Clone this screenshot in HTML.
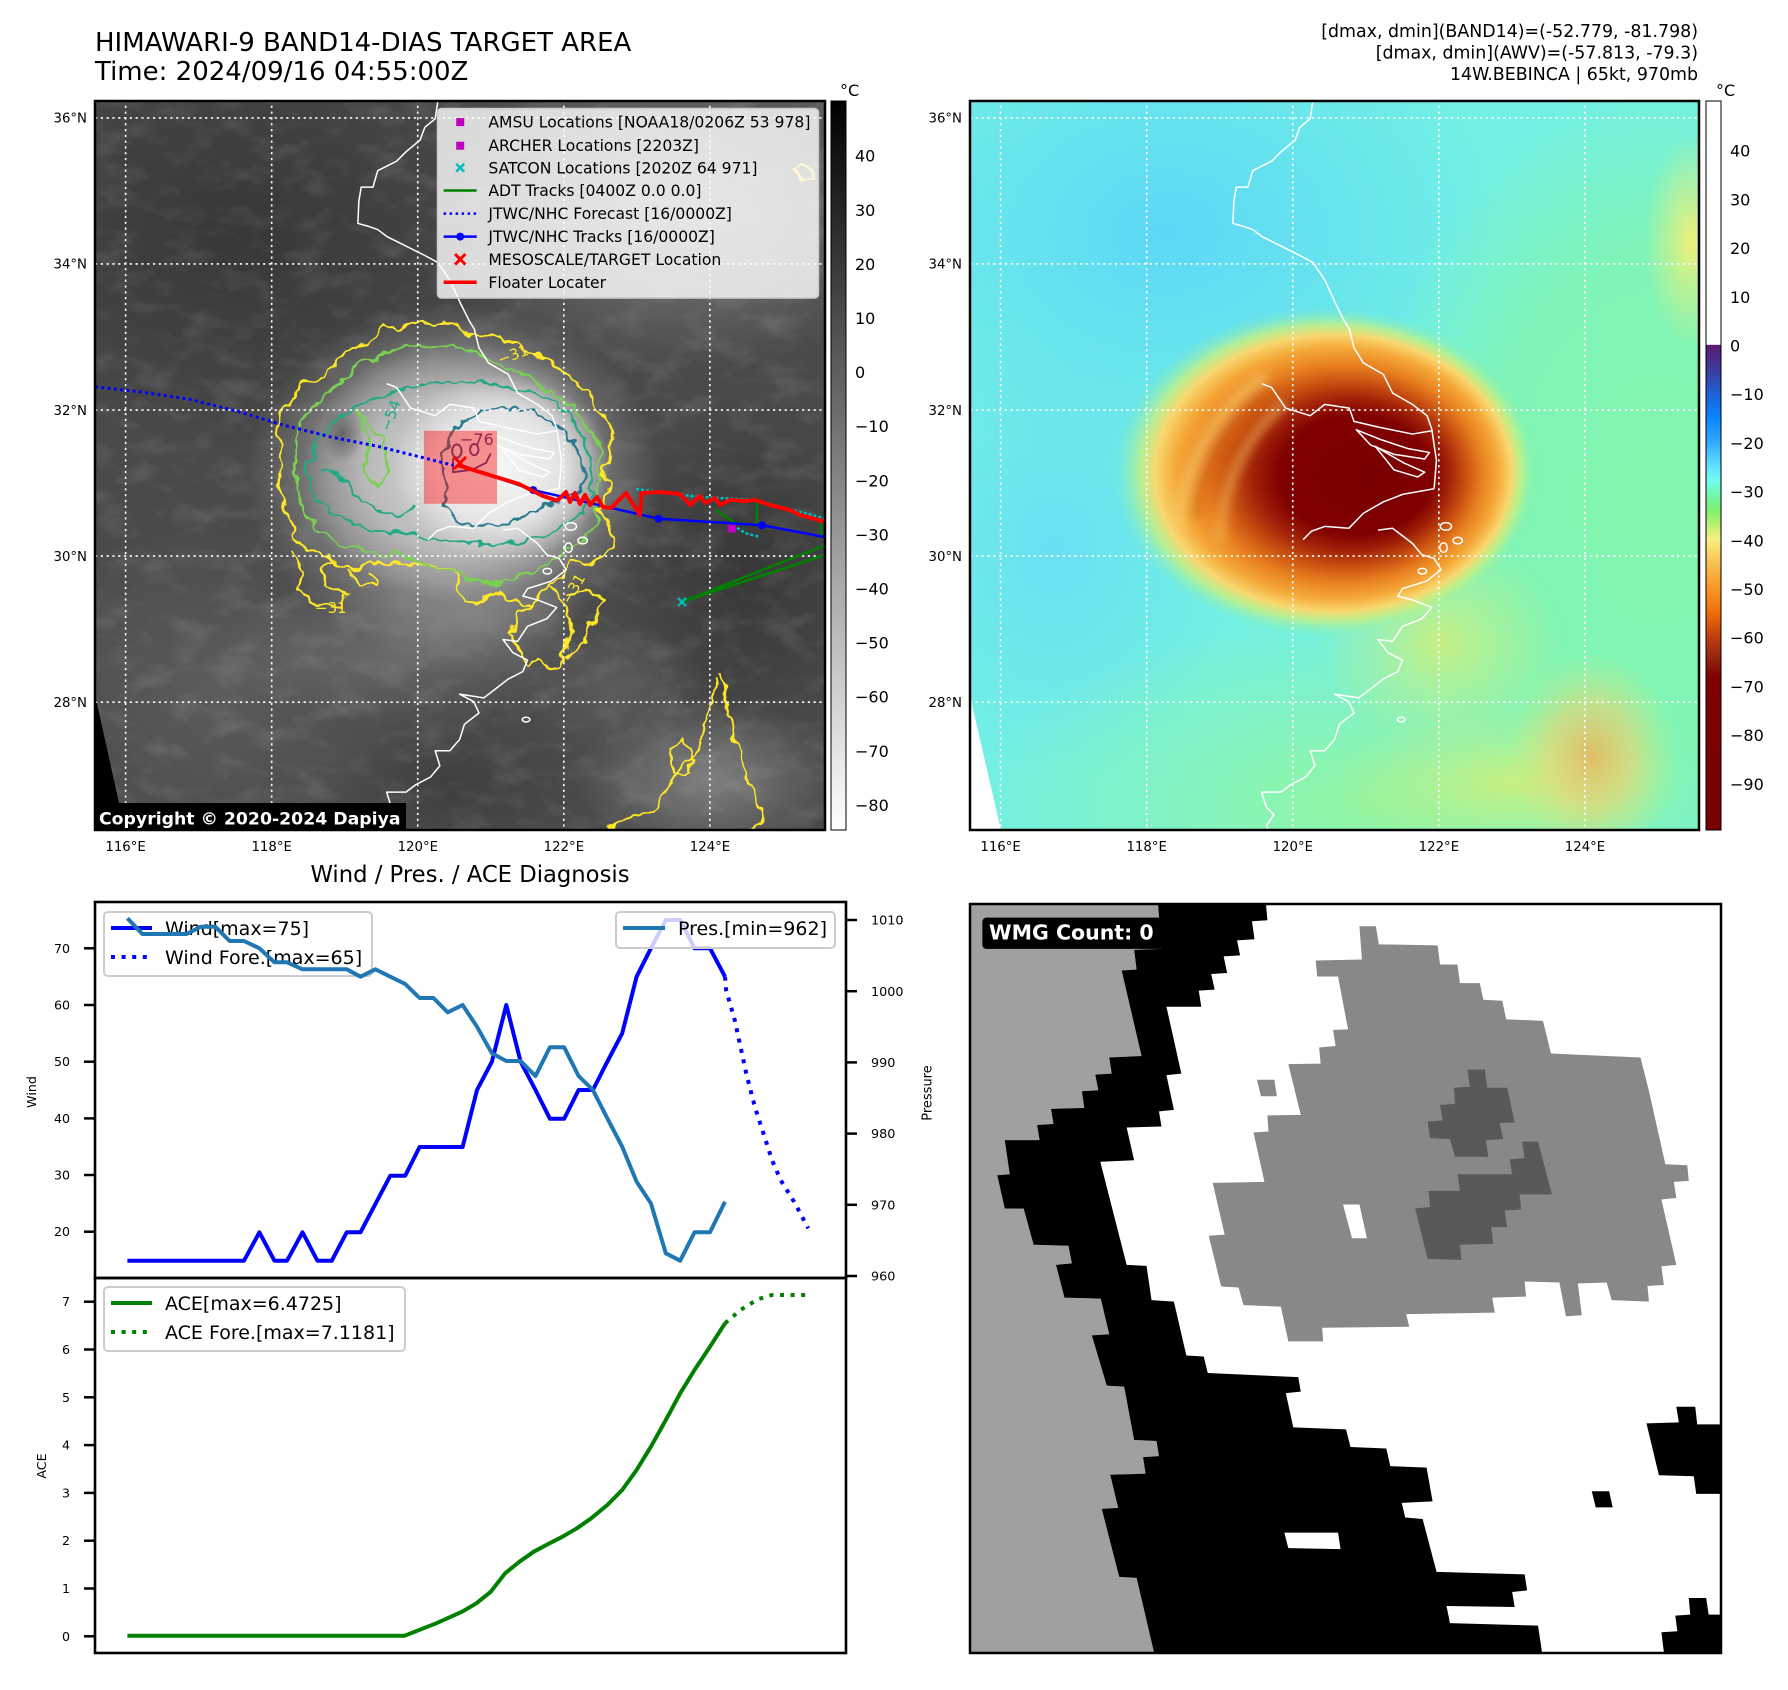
<!DOCTYPE html>
<html><head><meta charset="utf-8">
<style>
html,body{margin:0;padding:0;background:#fff;}
svg{display:block;}
text{font-family:"DejaVu Sans","Liberation Sans",sans-serif;}
</style></head><body>
<svg width="1788" height="1690" viewBox="0 0 1788 1690" xmlns="http://www.w3.org/2000/svg">
<defs>
  <radialGradient id="kDark"><stop offset="0" stop-color="#353535" stop-opacity="0.9"/><stop offset="1" stop-color="#353535" stop-opacity="0"/></radialGradient>
  <radialGradient id="kDark2"><stop offset="0" stop-color="#3c3c3c" stop-opacity="0.8"/><stop offset="1" stop-color="#3c3c3c" stop-opacity="0"/></radialGradient>
  <radialGradient id="kLight"><stop offset="0" stop-color="#868686" stop-opacity="0.9"/><stop offset="1" stop-color="#868686" stop-opacity="0"/></radialGradient>
  <radialGradient id="kMed"><stop offset="0" stop-color="#5e5e5e" stop-opacity="0.9"/><stop offset="1" stop-color="#5e5e5e" stop-opacity="0"/></radialGradient>
  <radialGradient id="kMed2"><stop offset="0" stop-color="#727272" stop-opacity="0.8"/><stop offset="1" stop-color="#727272" stop-opacity="0"/></radialGradient>
  <radialGradient id="kHalo"><stop offset="0" stop-color="#a4a4a4" stop-opacity="1"/><stop offset="0.6" stop-color="#969696" stop-opacity="0.75"/><stop offset="1" stop-color="#909090" stop-opacity="0"/></radialGradient>
  <radialGradient id="kHalo2"><stop offset="0" stop-color="#8a8a8a" stop-opacity="0.8"/><stop offset="1" stop-color="#8a8a8a" stop-opacity="0"/></radialGradient>
  <radialGradient id="kBody"><stop offset="0" stop-color="#d8d8d8" stop-opacity="1"/><stop offset="0.6" stop-color="#cccccc" stop-opacity="0.7"/><stop offset="1" stop-color="#c0c0c0" stop-opacity="0"/></radialGradient>
  <radialGradient id="kCore"><stop offset="0" stop-color="#f6f6f6" stop-opacity="1"/><stop offset="0.6" stop-color="#eeeeee" stop-opacity="0.8"/><stop offset="1" stop-color="#e8e8e8" stop-opacity="0"/></radialGradient>
  <radialGradient id="kSpot"><stop offset="0" stop-color="#606060" stop-opacity="0.9"/><stop offset="1" stop-color="#606060" stop-opacity="0"/></radialGradient>

  <radialGradient id="cBlue"><stop offset="0" stop-color="#5ad4f8" stop-opacity="0.9"/><stop offset="1" stop-color="#5ad4f8" stop-opacity="0"/></radialGradient>
  <radialGradient id="cBlue2"><stop offset="0" stop-color="#66dcf6" stop-opacity="0.8"/><stop offset="1" stop-color="#66dcf6" stop-opacity="0"/></radialGradient>
  <radialGradient id="cGreen"><stop offset="0" stop-color="#84f6ac" stop-opacity="1"/><stop offset="0.6" stop-color="#80f5b4" stop-opacity="0.9"/><stop offset="1" stop-color="#80f5b8" stop-opacity="0"/></radialGradient>
  <radialGradient id="cGreen2"><stop offset="0" stop-color="#92f5a0" stop-opacity="1"/><stop offset="1" stop-color="#92f5a0" stop-opacity="0"/></radialGradient>
  <radialGradient id="cYG"><stop offset="0" stop-color="#d0f07c" stop-opacity="0.9"/><stop offset="1" stop-color="#c0f084" stop-opacity="0"/></radialGradient>
  <radialGradient id="cOr"><stop offset="0" stop-color="#f0b058" stop-opacity="0.8"/><stop offset="0.5" stop-color="#f4d070" stop-opacity="0.55"/><stop offset="1" stop-color="#d0f080" stop-opacity="0"/></radialGradient>
  <radialGradient id="cYel"><stop offset="0" stop-color="#f0f07a" stop-opacity="1"/><stop offset="1" stop-color="#d8f080" stop-opacity="0"/></radialGradient>
  <radialGradient id="blob" cx="0.5" cy="0.5" r="0.5" fx="0.612" fy="0.514">
    <stop offset="0" stop-color="#780000"/>
    <stop offset="0.36" stop-color="#800000"/>
    <stop offset="0.46" stop-color="#a02008"/>
    <stop offset="0.56" stop-color="#c85010"/>
    <stop offset="0.66" stop-color="#e88020"/>
    <stop offset="0.76" stop-color="#f5a838"/>
    <stop offset="0.84" stop-color="#f8d870"/>
    <stop offset="0.90" stop-color="#c8f080" stop-opacity="0.8"/>
    <stop offset="0.96" stop-color="#a0f0a0" stop-opacity="0.3"/>
    <stop offset="1" stop-color="#90f0a0" stop-opacity="0"/>
  </radialGradient>

  <linearGradient id="cbGray" x1="0" y1="0" x2="0" y2="1">
    <stop offset="0" stop-color="#000"/><stop offset="1" stop-color="#fff"/>
  </linearGradient>
  <linearGradient id="cbJet" x1="0" y1="0" x2="0" y2="1">
    <stop offset="0" stop-color="#ffffff"/>
    <stop offset="0.334" stop-color="#ffffff"/>
    <stop offset="0.335" stop-color="#5c1a6e"/>
    <stop offset="0.367" stop-color="#3e3a9a"/>
    <stop offset="0.401" stop-color="#1f60d4"/>
    <stop offset="0.434" stop-color="#0a84ff"/>
    <stop offset="0.467" stop-color="#30a8ff"/>
    <stop offset="0.501" stop-color="#60e0ff"/>
    <stop offset="0.521" stop-color="#70fcee"/>
    <stop offset="0.540" stop-color="#72f8b0"/>
    <stop offset="0.560" stop-color="#7cf070"/>
    <stop offset="0.581" stop-color="#b8f070"/>
    <stop offset="0.601" stop-color="#f8f080"/>
    <stop offset="0.634" stop-color="#f8c050"/>
    <stop offset="0.667" stop-color="#f89828"/>
    <stop offset="0.701" stop-color="#f07008"/>
    <stop offset="0.734" stop-color="#c04010"/>
    <stop offset="0.768" stop-color="#902010"/>
    <stop offset="0.790" stop-color="#800000"/>
    <stop offset="1" stop-color="#7a0000"/>
  </linearGradient>

  <filter id="wob" filterUnits="userSpaceOnUse" x="0" y="0" width="1560" height="1560">
    <feTurbulence type="fractalNoise" baseFrequency="0.035" numOctaves="2" seed="4"/>
    <feDisplacementMap in="SourceGraphic" scale="28" xChannelSelector="R" yChannelSelector="G"/>
  </filter>
  <filter id="soft" filterUnits="userSpaceOnUse" x="0" y="0" width="1560" height="1560">
    <feGaussianBlur stdDeviation="10"/>
  </filter>
  <filter id="noise" filterUnits="userSpaceOnUse" x="0" y="0" width="1560" height="1560">
    <feTurbulence type="fractalNoise" baseFrequency="0.012 0.022" numOctaves="3" seed="7"/>
    <feColorMatrix type="matrix" values="0 0 0 0 1  0 0 0 0 1  0 0 0 0 1  1.6 0 0 0 -0.75"/>
  </filter>
  <clipPath id="clipL"><rect x="95" y="101" width="730" height="729"/></clipPath>

  <g id="coast" fill="none" stroke="#fff" stroke-width="3.2" stroke-linejoin="round">
    <path d="M728,0 L722,40 700,58 690,85 660,110 640,130 620,140 600,150 590,185 565,185 560,215 558,262 580,268 600,275 620,290 660,310 700,330 728,345 753,382 775,430 795,470 805,486 815,526 835,558 877,582 897,622 939,646 970,670 980,698 990,765 985,825"/>
    <path d="M619,602 L640,610 670,654 722,670 753,646 805,654 815,682 866,694 939,709 980,702"/>
    <path d="M820,700 L870,720 930,740 975,748 965,762 900,752 850,732 Z"/>
    <path d="M860,735 L920,770 965,790 950,800 900,785 Z"/>
    <path d="M707,933 L725,915 753,905 804,909 835,877 877,853 918,837 985,825"/>
    <path d="M866,913 L897,909 939,941 959,965 985,973 1000,997 969,1021 918,1037 908,1053 939,1061 980,1077 959,1101 918,1117 897,1149 866,1145 887,1173 918,1189 908,1213 877,1229 846,1253 825,1269 774,1261 804,1277 815,1301 784,1325 774,1357 753,1381 722,1381 732,1413 712,1437 681,1453 660,1469 619,1469 629,1501 645,1517 629,1540 640,1560"/>
    <ellipse cx="1010" cy="905" rx="12" ry="8"/>
    <ellipse cx="1035" cy="935" rx="10" ry="7"/>
    <ellipse cx="1005" cy="950" rx="8" ry="10"/>
    <ellipse cx="960" cy="1000" rx="9" ry="6"/>
    <ellipse cx="915" cy="1315" rx="8" ry="5"/>
  </g>
</defs>

<rect width="1788" height="1690" fill="#fff"/>

<!-- ================= TITLES ================= -->
<text x="95" y="51" font-size="26" fill="#000">HIMAWARI-9 BAND14-DIAS TARGET AREA</text>
<text x="95" y="80" font-size="26" fill="#000">Time: 2024/09/16 04:55:00Z</text>
<text x="1698" y="37" font-size="17.4" text-anchor="end">[dmax, dmin](BAND14)=(-52.779, -81.798)</text>
<text x="1698" y="58.5" font-size="17.4" text-anchor="end">[dmax, dmin](AWV)=(-57.813, -79.3)</text>
<text x="1698" y="80" font-size="17.4" text-anchor="end">14W.BEBINCA | 65kt, 970mb</text>

<!-- ================= LEFT MAP ================= -->
<svg x="95" y="101" width="730" height="729" viewBox="0 2.12 1549.4 1547.2" preserveAspectRatio="none">
  <rect x="0" y="0" width="1560" height="1560" fill="#4a4a4a"/>
  <ellipse cx="300" cy="280" rx="650" ry="480" fill="url(#kDark)"/>
  <ellipse cx="1250" cy="230" rx="520" ry="340" fill="url(#kLight)"/>
  <ellipse cx="1380" cy="1000" rx="300" ry="380" fill="url(#kDark)"/>
  <ellipse cx="250" cy="1250" rx="450" ry="350" fill="url(#kMed)"/>
  <ellipse cx="650" cy="1170" rx="420" ry="160" fill="url(#kMed2)"/>
  <ellipse cx="780" cy="1460" rx="260" ry="140" fill="url(#kDark2)"/>
  <ellipse cx="1300" cy="1440" rx="280" ry="170" fill="url(#kLight)"/>
  <ellipse cx="1100" cy="1250" rx="200" ry="150" fill="url(#kMed)"/>
  <rect x="0" y="0" width="1560" height="1560" filter="url(#noise)" opacity="0.16"/>
  <ellipse cx="760" cy="800" rx="440" ry="370" fill="url(#kHalo)"/>
  <ellipse cx="790" cy="1080" rx="250" ry="140" fill="url(#kHalo2)"/>
  <ellipse cx="770" cy="790" rx="330" ry="280" fill="url(#kBody)"/>
  <ellipse cx="860" cy="780" rx="230" ry="200" fill="url(#kCore)"/>
  <ellipse cx="525" cy="710" rx="45" ry="60" fill="url(#kSpot)"/>
  <polygon points="0,1262 66,1560 0,1560" fill="#000"/>

  <g fill="none" stroke-width="5" stroke-linejoin="round" filter="url(#wob)">
    <path stroke="#fde725" d="M385,660 L420,640 440,600 490,590 530,540 570,520 600,495 615,480 650,485 690,470 720,475 740,465 770,480 800,500 850,500 900,520 950,545 990,575 1020,600 1050,620 1070,660 1100,690 1095,750 1080,790 1090,830 1070,870 1090,900 1100,950 1060,980 1010,985 990,1010 960,1030 930,1070 880,1065 850,1040 820,1065 790,1065 770,1030 765,995 720,985 660,985 600,980 545,995 500,975 470,960 430,940 420,900 400,860 390,820 395,770 390,720 Z"/>
    <path stroke="#fde725" d="M420,960 L445,1000 430,1040 470,1070 525,1080 535,1045 490,1030 480,1000 500,975"/>
    <path stroke="#fde725" d="M540,1000 L560,1030 600,1030 590,1005"/>
    <path stroke="#fde725" d="M960,1030 L990,1060 1010,1100 1000,1150 990,1200 960,1210 940,1180 920,1200 900,1170 880,1130 900,1090 930,1070"/>
    <path stroke="#fde725" d="M1000,1050 L1040,1040 1080,1060 1060,1100 1040,1150 1000,1180"/>
    <path stroke="#fde725" d="M1330,1220 L1340,1280 1360,1350 1380,1420 1400,1470 1420,1530 1380,1555"/>
    <path stroke="#fde725" d="M1320,1230 L1300,1300 1290,1360 1260,1400 1230,1440 1200,1480 1180,1510 1140,1520 1100,1540 1060,1555"/>
    <path stroke="#fde725" d="M1220,1380 L1250,1360 1270,1400 1260,1430 1230,1430 Z"/>
    <path stroke="#fde725" d="M1480,150 L1510,140 1530,160 1500,170 Z"/>
    <path stroke="#7ad151" d="M430,700 L470,640 520,600 560,560 610,540 660,520 720,525 780,530 830,545 880,570 920,590 970,620 1010,650 1040,690 1070,730 1075,800 1060,850 1070,890 1040,930 1000,960 950,990 900,1010 850,1030 800,1020 760,995 700,985 640,965 580,960 520,945 480,920 440,870 430,820 425,760 Z"/>
    <path stroke="#7ad151" d="M560,660 L580,720 570,790 600,820 620,780 610,720 Z"/>
    <path stroke="#22a884" d="M450,780 L470,720 520,670 580,640 640,620 700,600 760,600 830,600 890,610 950,630 1000,660 1030,700 1050,760 1055,820 1040,870 1000,900 960,930 900,940 840,945 780,935 720,930 660,920 600,915 550,900 500,870 460,830 Z"/>
    <path stroke="#22a884" d="M480,790 L520,800 560,840 600,870 650,880 680,860"/>
    <path stroke="#2a788e" d="M740,750 L760,700 800,670 860,650 920,660 980,690 1020,730 1040,790 1030,830 990,850 950,860 920,880 860,900 800,905 760,890 740,860 750,820 730,780 Z"/>
  </g>
  <g fill="none" stroke="#414487" stroke-width="4">
    <ellipse cx="768" cy="745" rx="10" ry="14"/>
    <ellipse cx="805" cy="742" rx="9" ry="12"/>
    <path d="M760,760 L760,790 800,785 830,770 840,750"/>
  </g>
  <use href="#coast"/>
  <g stroke="#fff" stroke-width="3.4" stroke-dasharray="4.7 7.6">
    <line x1="65" y1="0" x2="65" y2="1560"/><line x1="375" y1="0" x2="375" y2="1560"/>
    <line x1="685" y1="0" x2="685" y2="1560"/><line x1="995" y1="0" x2="995" y2="1560"/>
    <line x1="1305" y1="0" x2="1305" y2="1560"/>
    <line x1="0" y1="38" x2="1560" y2="38"/><line x1="0" y1="348" x2="1560" y2="348"/>
    <line x1="0" y1="658" x2="1560" y2="658"/><line x1="0" y1="968" x2="1560" y2="968"/>
    <line x1="0" y1="1278" x2="1560" y2="1278"/>
  </g>
</svg>

<g clip-path="url(#clipL)">
  <text x="460" y="445" font-size="16" fill="#414487">−76</text>
  <text x="500" y="365" font-size="15" fill="#fde725" transform="rotate(-20 500 365)">−31</text>
  <text x="315" y="613" font-size="15" fill="#fde725">−31</text>
  <text x="390" y="432" font-size="15" fill="#22a884" transform="rotate(-70 390 432)">−54</text>
  <text x="570" y="605" font-size="15" fill="#fde725" transform="rotate(-60 570 605)">−31</text>
  <rect x="423.9" y="430.8" width="73.1" height="73" fill="#ff0000" fill-opacity="0.4"/>
  <path d="M95,387 L99.7,387.4 142.1,392.1 189.2,399.2 236.3,411 283.5,425.1 330.6,436.9 377.7,446.3 424.8,458.1 453.1,465.2" fill="none" stroke="#0000ff" stroke-width="3" stroke-dasharray="3 3.3"/>
  <g fill="none" stroke="#008000" stroke-width="2.5">
    <path d="M682.3,601.7 L830,543.3"/>
    <path d="M682.3,601.7 L830,553.3"/>
    <path d="M640,498 L641.5,515"/>
    <path d="M716,510 L735.3,523.3 762,525.3"/>
    <path d="M757,501.7 L757,523.3"/>
    <path d="M821,522 L821,537"/>
  </g>
  <g fill="none" stroke="#00bfbf" stroke-width="2.5" stroke-dasharray="3 2">
    <path d="M636,489 L700,497 755,500 800,512 828,519"/>
    <path d="M733,525 L745,533 760,537"/>
  </g>
  <g stroke="#00bfbf" stroke-width="2.2">
    <path d="M678,598 L686,606 M686,598 L678,606"/>
  </g>
  <rect x="727.5" y="524" width="8.5" height="8.5" fill="#bf00bf"/>
  <path d="M458,464 L533.2,490.1 658.5,518.7 762.1,525.3 830,538" fill="none" stroke="#0000ff" stroke-width="2.5"/>
  <g fill="#0000ff"><circle cx="533.2" cy="490.1" r="4"/><circle cx="658.5" cy="518.7" r="4"/><circle cx="762.1" cy="525.3" r="4"/></g>
  <path d="M457.8,465.2 L495.5,476.9 519,484 542.6,495.8 556.7,500.5 560,498 566,492 570,502 575,493 580,504 585,495 590,505 597,497 603,507 611,508 626,493 640,515 641.5,493 660,492 680,494 690,505 700,496 705,503 715,498 720,505 730,500 745,501 755,500 770,505 790,510 800,515 830,523" fill="none" stroke="#ff0000" stroke-width="4" stroke-linejoin="round"/>
  <path d="M454,457 L466,469 M466,457 L454,469" stroke="#ff0000" stroke-width="3"/>
</g>

<rect x="95" y="803" width="311" height="27" fill="#000"/>
<text x="99" y="824.5" font-size="17.3" font-weight="bold" fill="#fff">Copyright © 2020-2024 Dapiya</text>

<rect x="437.5" y="108.5" width="381" height="189.5" rx="4" fill="#ffffff" fill-opacity="0.8" stroke="#cccccc" stroke-width="1.5"/>
<g font-size="15.6" fill="#000">
  <rect x="456.2" y="118.1" width="8" height="8" fill="#bf00bf"/>
  <text x="488.4" y="127.6">AMSU Locations [NOAA18/0206Z 53 978]</text>
  <rect x="456.2" y="141.7" width="8" height="8" fill="#bf00bf"/>
  <text x="488.4" y="151.2">ARCHER Locations [2203Z]</text>
  <path d="M456.2,163.8 L464.2,171.8 M464.2,163.8 L456.2,171.8" stroke="#00bfbf" stroke-width="2.5"/>
  <text x="488.4" y="173.3">SATCON Locations [2020Z 64 971]</text>
  <line x1="443.6" y1="190.5" x2="476.7" y2="190.5" stroke="#008000" stroke-width="2.5"/>
  <text x="488.4" y="196">ADT Tracks [0400Z 0.0 0.0]</text>
  <line x1="443.6" y1="213.6" x2="476.7" y2="213.6" stroke="#0000ff" stroke-width="2.5" stroke-dasharray="2.5 3.5"/>
  <text x="488.4" y="219.1">JTWC/NHC Forecast [16/0000Z]</text>
  <line x1="443.6" y1="236.6" x2="476.7" y2="236.6" stroke="#0000ff" stroke-width="2.5"/>
  <circle cx="460.2" cy="236.6" r="4" fill="#0000ff"/>
  <text x="488.4" y="242.1">JTWC/NHC Tracks [16/0000Z]</text>
  <path d="M455,254 L465.4,264.6 M465.4,254 L455,264.6" stroke="#ff0000" stroke-width="3"/>
  <text x="488.4" y="264.8">MESOSCALE/TARGET Location</text>
  <line x1="443.6" y1="282.3" x2="476.7" y2="282.3" stroke="#ff0000" stroke-width="3.5"/>
  <text x="488.4" y="287.8">Floater Locater</text>
</g>

<rect x="95" y="101" width="730" height="729" fill="none" stroke="#000" stroke-width="2.5"/>

<rect x="831" y="101" width="15" height="729" fill="url(#cbGray)" stroke="#000" stroke-width="1"/>
<text x="840" y="96" font-size="16">°C</text>
<g font-size="16" fill="#000">
  <text x="855" y="161.7">40</text><text x="855" y="215.8">30</text><text x="855" y="269.9">20</text>
  <text x="855" y="324">10</text><text x="855" y="378.1">0</text><text x="855" y="432.2">−10</text>
  <text x="855" y="486.3">−20</text><text x="855" y="540.4">−30</text><text x="855" y="594.5">−40</text>
  <text x="855" y="648.6">−50</text><text x="855" y="702.7">−60</text><text x="855" y="756.8">−70</text>
  <text x="855" y="810.9">−80</text>
</g>

<g font-size="13.3" fill="#000" text-anchor="end">
  <text x="87" y="122.6">36°N</text><text x="87" y="268.7">34°N</text><text x="87" y="414.8">32°N</text>
  <text x="87" y="560.9">30°N</text><text x="87" y="707">28°N</text>
  <text x="962" y="122.6">36°N</text><text x="962" y="268.7">34°N</text><text x="962" y="414.8">32°N</text>
  <text x="962" y="560.9">30°N</text><text x="962" y="707">28°N</text>
</g>
<g font-size="13.3" fill="#000" text-anchor="middle">
  <text x="125.6" y="851">116°E</text><text x="271.7" y="851">118°E</text><text x="417.8" y="851">120°E</text>
  <text x="563.9" y="851">122°E</text><text x="710" y="851">124°E</text>
  <text x="1000.6" y="851">116°E</text><text x="1146.7" y="851">118°E</text><text x="1292.8" y="851">120°E</text>
  <text x="1438.9" y="851">122°E</text><text x="1585" y="851">124°E</text>
</g>

<!-- ================= RIGHT MAP ================= -->
<svg x="970" y="101" width="729" height="729" viewBox="0 2.12 1547.2 1547.2" preserveAspectRatio="none">
  <rect x="0" y="0" width="1560" height="1560" fill="#72f0e4"/>
  <ellipse cx="420" cy="280" rx="700" ry="520" fill="url(#cBlue)"/>
  <ellipse cx="180" cy="950" rx="380" ry="480" fill="url(#cBlue2)"/>
  <ellipse cx="1450" cy="850" rx="600" ry="900" fill="url(#cGreen)"/>
  <ellipse cx="850" cy="1500" rx="850" ry="420" fill="url(#cGreen2)"/>
  <ellipse cx="1000" cy="1150" rx="260" ry="230" fill="url(#cYG)"/>
  <ellipse cx="1150" cy="1450" rx="380" ry="160" fill="url(#cYG)"/>
  <ellipse cx="1320" cy="1390" rx="180" ry="220" fill="url(#cOr)"/>
  <ellipse cx="1530" cy="300" rx="100" ry="230" fill="url(#cYel)"/>
  <ellipse cx="755" cy="790" rx="450" ry="350" fill="url(#blob)"/>
  <g filter="url(#soft)" fill="none" stroke-linecap="round">
    <path d="M440,900 Q470,700 620,590" stroke="#f8d070" stroke-width="26" opacity="0.55"/>
    <path d="M530,930 Q540,760 660,650" stroke="#f8c060" stroke-width="22" opacity="0.5"/>
    <path d="M480,880 Q505,700 640,610" stroke="#c05010" stroke-width="18" opacity="0.4"/>
  </g>
  <polygon points="0,1265 68,1560 0,1560" fill="#fff"/>
  <use href="#coast"/>
  <g stroke="#fff" stroke-width="3.4" stroke-dasharray="4.7 7.6">
    <line x1="65" y1="0" x2="65" y2="1560"/><line x1="375" y1="0" x2="375" y2="1560"/>
    <line x1="685" y1="0" x2="685" y2="1560"/><line x1="995" y1="0" x2="995" y2="1560"/>
    <line x1="1305" y1="0" x2="1305" y2="1560"/>
    <line x1="0" y1="38" x2="1560" y2="38"/><line x1="0" y1="348" x2="1560" y2="348"/>
    <line x1="0" y1="658" x2="1560" y2="658"/><line x1="0" y1="968" x2="1560" y2="968"/>
    <line x1="0" y1="1278" x2="1560" y2="1278"/>
  </g>
</svg>
<rect x="970" y="101" width="729" height="729" fill="none" stroke="#000" stroke-width="2.5"/>

<rect x="1706" y="101" width="15" height="729" fill="url(#cbJet)" stroke="#000" stroke-width="1"/>
<text x="1716" y="96" font-size="16">°C</text>
<g font-size="16" fill="#000">
  <text x="1730" y="156.7">40</text><text x="1730" y="205.4">30</text><text x="1730" y="254.1">20</text>
  <text x="1730" y="302.8">10</text><text x="1730" y="351.5">0</text><text x="1730" y="400.2">−10</text>
  <text x="1730" y="448.9">−20</text><text x="1730" y="497.6">−30</text><text x="1730" y="546.3">−40</text>
  <text x="1730" y="595">−50</text><text x="1730" y="643.7">−60</text><text x="1730" y="692.4">−70</text>
  <text x="1730" y="741.1">−80</text><text x="1730" y="789.8">−90</text>
</g>

<!-- ================= WIND / PRES CHART ================= -->
<text x="470" y="882" font-size="22.7" text-anchor="middle">Wind / Pres. / ACE Diagnosis</text>

<path d="M127.4,1260.7 L244.0,1260.7 259.4,1232.3 274.4,1260.7 287.0,1260.7 302.5,1232.3 317.4,1260.7 331.8,1260.7 346.7,1232.3 360.5,1232.3 375.4,1204 390.3,1175.7 405.2,1175.7 419.6,1147 462.6,1147 477.0,1090 491.9,1061.7 506.3,1005 520.6,1061.7 535.5,1090 549.9,1118.7 564.2,1118.7 578.6,1090 592.9,1090 607.3,1061.7 622.2,1033.3 636.6,976.7 650.9,948.3 665.8,920 680.2,920 694.5,948.3 710.0,948.3 725.0,976.7" fill="none" stroke="#0000ff" stroke-width="4" stroke-linejoin="round"/>
<path d="M725,976.7 L726.1,990 734.7,1020 740.5,1046.7 746.2,1073.3 754.8,1106.7 763.4,1133.3 772,1160 780.6,1180 795,1203.3 808.2,1228.3" fill="none" stroke="#0000ff" stroke-width="4" stroke-dasharray="4 6.6"/>

<rect x="104" y="912" width="268" height="64" rx="4" fill="#fff" fill-opacity="0.8" stroke="#cccccc" stroke-width="2"/>
<line x1="111" y1="928" x2="152" y2="928" stroke="#0000ff" stroke-width="4"/>
<text x="165" y="935" font-size="19">Wind[max=75]</text>
<line x1="111" y1="957" x2="152" y2="957" stroke="#0000ff" stroke-width="4" stroke-dasharray="4 6.6"/>
<text x="165" y="964" font-size="19">Wind Fore.[max=65]</text>

<path d="M127.4,918.3 L142.4,934 186.6,934 200.9,926.7 215.3,926.7 229.6,941 244.0,941 259.4,948.3 274.4,962.3 287.0,962.3 302.5,969.3 346.7,969.3 360.5,976.7 375.4,969.3 390.3,976.7 405.2,984 419.6,998 433.4,998 447.7,1012.3 462.6,1005 477.0,1026.7 491.9,1053.3 506.3,1061 520.6,1061 535.5,1076 549.9,1047.3 564.2,1047.3 578.6,1076 592.9,1090 607.3,1118.3 622.2,1146.7 636.6,1181.7 650.9,1203.3 665.8,1253.3 680.2,1260.7 694.5,1232.3 710.0,1232.3 725.0,1201.7" fill="none" stroke="#1f77b4" stroke-width="4" stroke-linejoin="round"/>

<rect x="616" y="912" width="219" height="36" rx="4" fill="#fff" fill-opacity="0.8" stroke="#cccccc" stroke-width="2"/>
<line x1="623" y1="928" x2="665" y2="928" stroke="#1f77b4" stroke-width="4"/>
<text x="678" y="935" font-size="19">Pres.[min=962]</text>

<rect x="95" y="902" width="751" height="376" fill="none" stroke="#000" stroke-width="2.6"/>
<rect x="95" y="1278" width="751" height="375" fill="none" stroke="#000" stroke-width="2.6"/>

<g stroke="#000" stroke-width="2.5">
  <line x1="84" y1="948.3" x2="95" y2="948.3"/><line x1="84" y1="1005" x2="95" y2="1005"/>
  <line x1="84" y1="1061.7" x2="95" y2="1061.7"/><line x1="84" y1="1118.4" x2="95" y2="1118.4"/>
  <line x1="84" y1="1175" x2="95" y2="1175"/><line x1="84" y1="1231.7" x2="95" y2="1231.7"/>
  <line x1="846" y1="920" x2="857" y2="920"/><line x1="846" y1="991.2" x2="857" y2="991.2"/>
  <line x1="846" y1="1062.4" x2="857" y2="1062.4"/><line x1="846" y1="1133.6" x2="857" y2="1133.6"/>
  <line x1="846" y1="1204.8" x2="857" y2="1204.8"/><line x1="846" y1="1276" x2="857" y2="1276"/>
</g>
<g font-size="12.6" text-anchor="end">
  <text x="70" y="952.8">70</text><text x="70" y="1009.5">60</text><text x="70" y="1066.2">50</text>
  <text x="70" y="1122.9">40</text><text x="70" y="1179.5">30</text><text x="70" y="1236.2">20</text>
</g>
<g font-size="12.8">
  <text x="871" y="924.6">1010</text><text x="871" y="995.8">1000</text><text x="871" y="1067">990</text>
  <text x="871" y="1138.2">980</text><text x="871" y="1209.4">970</text><text x="871" y="1280.6">960</text>
</g>
<text x="36" y="1092" font-size="12.6" text-anchor="middle" transform="rotate(-90 36 1092)">Wind</text>
<text x="931.5" y="1093" font-size="13" text-anchor="middle" transform="rotate(-90 931.5 1093)">Pressure</text>

<!-- ================= ACE CHART ================= -->
<path d="M127.4,1635.7 L404.7,1635.7 436.2,1623.3 462.1,1611.7 476.4,1603.3 490.8,1591.7 505.1,1573.3 519.5,1561.7 533.8,1551.7 548.2,1544 562.5,1536.7 576.9,1528.3 591.2,1518.3 607.3,1505 622.2,1490 636.6,1470 650.9,1446.7 665.8,1420 680.2,1393.3 694.5,1370 710,1346.7 725,1323.3" fill="none" stroke="#008000" stroke-width="4" stroke-linejoin="round"/>
<path d="M725,1323.3 L740.5,1310 757.7,1299.3 772,1295 809.3,1295" fill="none" stroke="#008000" stroke-width="4" stroke-dasharray="4 6.6"/>
<rect x="104" y="1287" width="301" height="64" rx="4" fill="#fff" fill-opacity="0.8" stroke="#cccccc" stroke-width="2"/>
<line x1="111" y1="1303" x2="152" y2="1303" stroke="#008000" stroke-width="4"/>
<text x="165" y="1310" font-size="19">ACE[max=6.4725]</text>
<line x1="111" y1="1332" x2="152" y2="1332" stroke="#008000" stroke-width="4" stroke-dasharray="4 6.6"/>
<text x="165" y="1339" font-size="19">ACE Fore.[max=7.1181]</text>
<g stroke="#000" stroke-width="2.5">
  <line x1="84" y1="1636.3" x2="95" y2="1636.3"/><line x1="84" y1="1588.5" x2="95" y2="1588.5"/>
  <line x1="84" y1="1540.7" x2="95" y2="1540.7"/><line x1="84" y1="1492.9" x2="95" y2="1492.9"/>
  <line x1="84" y1="1445.1" x2="95" y2="1445.1"/><line x1="84" y1="1397.3" x2="95" y2="1397.3"/>
  <line x1="84" y1="1349.5" x2="95" y2="1349.5"/><line x1="84" y1="1301.7" x2="95" y2="1301.7"/>
</g>
<g font-size="12.6" text-anchor="end">
  <text x="70" y="1640.8">0</text><text x="70" y="1593">1</text><text x="70" y="1545.2">2</text>
  <text x="70" y="1497.4">3</text><text x="70" y="1449.6">4</text><text x="70" y="1401.8">5</text>
  <text x="70" y="1354">6</text><text x="70" y="1306.2">7</text>
</g>
<text x="46" y="1466" font-size="12.7" text-anchor="middle" transform="rotate(-90 46 1466)">ACE</text>

<!-- ================= WMG PANEL ================= -->
<svg x="960" y="890" width="780" height="790" viewBox="0 0 1568 1570" preserveAspectRatio="none">
  <rect x="20" y="27" width="1510" height="1488" fill="#fff"/>
  <polygon fill="#a0a0a0" points="20,27 398,27 405,117 350,119 355,158 325,160 365,330 300,333 305,365 272,367 278,398 245,400 250,433 183,435 188,465 155,467 160,497 90,497 100,565 75,567 90,633 128,633 148,705 218,707 225,742 193,745 210,810 283,812 300,883 265,885 295,985 330,987 350,1093 395,1095 400,1125 368,1127 373,1160 302,1162 318,1228 285,1230 320,1365 355,1367 390,1515 20,1515"/>
  <polygon fill="#000" points="398,27 405,117 350,119 355,158 325,160 365,330 300,333 305,365 272,367 278,398 245,400 250,433 183,435 188,465 155,467 160,497 90,497 100,565 75,567 90,633 128,633 148,705 218,707 225,742 193,745 210,810 283,812 300,883 265,885 295,985 330,987 350,1093 395,1095 400,1125 368,1127 373,1160 302,1162 318,1228 285,1230 320,1365 355,1367 390,1515 1170,1515 1162,1462 985,1457 978,1423 1115,1425 1110,1395 1140,1392 1135,1360 958,1355 930,1250 895,1247 888,1218 950,1215 938,1148 865,1145 857,1110 785,1107 776,1072 670,1068 655,1000 685,997 680,968 498,960 490,927 455,925 430,818 385,815 375,747 335,745 282,540 350,537 335,472 405,470 400,440 430,437 415,368 445,365 415,232 485,232 480,200 512,198 505,167 537,165 530,132 563,130 557,100 592,98 587,62 618,60 615,27"/>
  <polygon fill="#fff" points="652,1277 760,1277 765,1310 660,1308"/>
  <polygon fill="#888888" points="803,72 836,72 842,108 960,110 965,148 1000,148 1005,185 1045,185 1052,218 1090,220 1098,257 1172,260 1188,325 1368,333 1385,400 1418,545 1462,547 1465,578 1435,580 1440,612 1410,615 1440,745 1410,748 1415,785 1382,787 1385,818 1310,815 1300,780 1242,782 1250,845 1218,847 1205,780 1135,778 1138,808 1070,810 1075,840 897,843 903,868 728,870 730,897 660,897 645,828 570,825 560,790 525,788 500,687 532,685 508,582 612,580 590,482 620,480 618,448 685,447 660,346 725,345 722,313 755,310 750,278 780,277 760,172 718,172 715,140 808,138"/>
  <polygon fill="#888888" points="597,377 632,377 637,410 605,410"/>
  <polygon fill="#fff" points="770,625 803,625 818,692 788,692"/>
  <polygon fill="#595959" points="1020,357 1055,357 1060,393 1100,393 1115,462 1085,463 1092,495 1057,497 1062,530 995,530 985,495 945,493 940,460 970,458 965,427 995,425 993,393 1025,391"/>
  <polygon fill="#595959" points="1130,500 1162,500 1190,605 1125,605 1128,635 1095,637 1100,670 1068,670 1072,703 1005,705 1008,735 940,733 915,633 945,630 942,598 1005,598 1000,565 1110,565 1105,535 1135,533"/>
  <polygon fill="#000" points="1440,1027 1478,1027 1482,1062 1530,1062 1530,1200 1480,1200 1475,1165 1405,1163 1380,1060 1445,1058"/>
  <polygon fill="#000" points="1270,1195 1305,1195 1312,1227 1278,1227"/>
  <polygon fill="#000" points="1465,1407 1500,1407 1505,1440 1530,1440 1530,1515 1415,1515 1410,1475 1442,1473 1438,1442 1468,1440"/>
  <rect x="45" y="55" width="365" height="62" rx="8" fill="#000"/>
</svg>
<text x="989" y="939.5" font-size="20.5" font-weight="bold" fill="#fff">WMG Count: 0</text>
<rect x="970" y="904" width="751" height="749" fill="none" stroke="#000" stroke-width="2.5"/>

</svg>
</body></html>
